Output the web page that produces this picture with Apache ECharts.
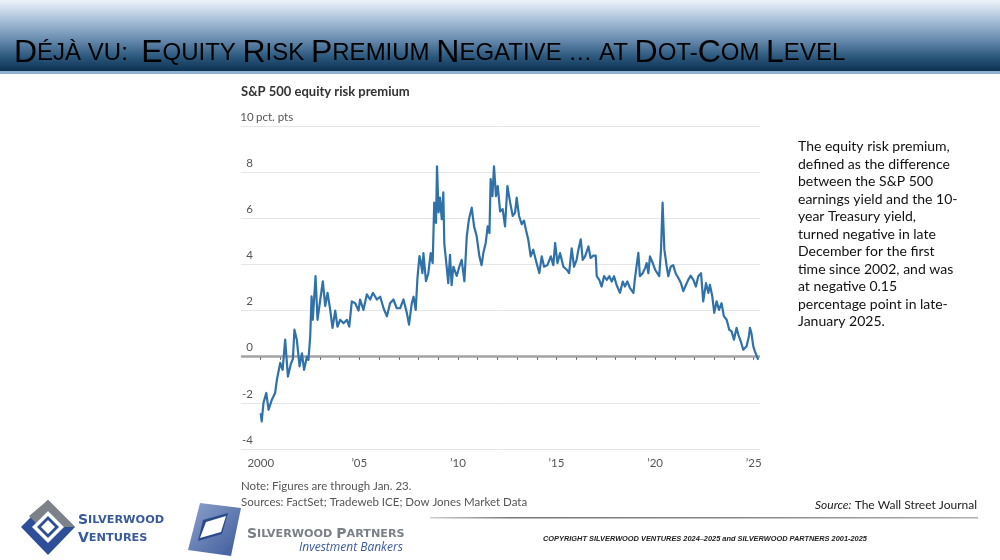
<!DOCTYPE html>
<html>
<head>
<meta charset="utf-8">
<script src="https://cdn.jsdelivr.net/npm/echarts@6/dist/echarts.min.js"></script>
<style>
html,body{margin:0;padding:0;background:#fff;}
#c{width:1000px;height:560px;}
</style>
</head>
<body>
<div id="c"></div>
<script>
// ---- data ----
const years = [
2000.00,2000.05,2000.14,2000.28,2000.40,2000.57,2000.73,2000.82,2000.99,2001.11,
2001.24,2001.38,2001.53,2001.63,2001.71,2001.83,2001.97,2002.09,2002.20,2002.34,
2002.42,2002.51,2002.58,2002.64,2002.78,2002.88,2003.02,2003.15,2003.27,2003.39,
2003.52,2003.64,2003.78,2003.89,2004.03,2004.20,2004.37,2004.49,2004.62,2004.79,
2004.96,2005.04,2005.21,2005.38,2005.55,2005.69,2005.89,2006.06,2006.23,2006.40,
2006.56,2006.73,2006.90,2007.07,2007.24,2007.41,2007.52,2007.66,2007.75,2007.86,
2007.95,2008.05,2008.10,2008.20,2008.25,2008.38,2008.50,2008.62,2008.72,2008.80,
2008.89,2008.94,2009.02,2009.09,2009.18,2009.26,2009.31,2009.43,2009.51,2009.60,
2009.68,2009.77,2009.94,2010.07,2010.19,2010.33,2010.45,2010.56,2010.70,2010.82,
2010.95,2011.09,2011.20,2011.29,2011.41,2011.51,2011.60,2011.66,2011.75,2011.83,
2011.93,2012.02,2012.14,2012.27,2012.39,2012.51,2012.65,2012.78,2012.90,2012.98,
2013.10,2013.24,2013.35,2013.45,2013.57,2013.69,2013.82,2013.99,2014.13,2014.25,
2014.37,2014.54,2014.71,2014.84,2014.93,2015.05,2015.18,2015.35,2015.52,2015.64,
2015.77,2015.89,2016.02,2016.11,2016.23,2016.33,2016.45,2016.62,2016.73,2016.87,
2016.99,2017.04,2017.17,2017.29,2017.41,2017.55,2017.68,2017.80,2017.92,2018.05,
2018.22,2018.36,2018.47,2018.59,2018.73,2018.90,2018.98,2019.07,2019.15,2019.23,
2019.37,2019.49,2019.57,2019.66,2019.74,2019.88,2020.00,2020.11,2020.21,2020.30,
2020.38,2020.47,2020.59,2020.67,2020.79,2020.92,2021.04,2021.18,2021.31,2021.43,
2021.57,2021.68,2021.80,2021.94,2022.07,2022.19,2022.33,2022.44,2022.58,2022.70,
2022.78,2022.90,2023.00,2023.12,2023.24,2023.37,2023.49,2023.63,2023.76,2023.88,
2024.00,2024.13,2024.22,2024.34,2024.47,2024.64,2024.76,2024.81,2024.89,2024.98,
2025.06,2025.15,2025.23
];
const erp = [
-2.45,-2.80,-2.00,-1.57,-2.30,-1.85,-1.57,-1.00,-0.27,-0.57,
 0.74,-0.86,-0.30,-0.10, 1.17, 0.74,-0.42, 0.15,-0.57, 0.00,
-0.14, 0.88, 2.62, 1.60, 3.49, 1.60, 2.48, 3.27, 2.20, 2.77,
 2.05, 1.25, 2.00, 1.30, 1.60, 1.45, 1.60, 1.30, 2.40, 2.32,
 2.00, 2.48, 2.03, 2.70, 2.48, 2.77, 2.48, 2.60, 2.10, 1.75,
 2.32, 2.48, 2.10, 2.10, 2.48, 1.90, 1.39, 2.32, 2.60, 2.03,
 3.42, 4.36, 4.20, 3.62, 4.49, 3.27, 3.62, 4.49, 4.06, 6.68,
 5.80, 8.25, 6.25, 6.90, 5.96, 7.12, 4.90, 3.90, 3.19, 4.42,
 3.10, 3.90, 3.50, 3.90, 4.20, 3.27, 5.23, 5.96, 6.46, 5.65,
 5.23, 4.35, 3.97, 4.49, 4.93, 5.65, 5.36, 7.70, 6.96, 8.25,
 6.96, 7.40, 6.30, 6.40, 5.65, 7.40, 6.68, 6.10, 6.25, 6.90,
 6.10, 5.74, 5.90, 5.50, 5.07, 4.35, 4.64, 4.06, 3.62, 4.35,
 3.90, 3.97, 4.35, 3.97, 4.93, 4.06, 4.49, 3.90, 3.77, 3.62,
 4.70, 3.90, 4.20, 4.64, 5.09, 4.20, 4.35, 4.78, 4.28, 4.38,
 4.38, 3.49, 3.33, 3.04, 3.49, 3.33, 3.49, 3.26, 3.49, 3.10,
 2.77, 3.26, 3.04, 3.26, 2.97, 2.77, 3.41, 3.49, 4.50, 3.49,
 3.62, 3.84, 4.06, 3.62, 4.35, 4.06, 3.77, 3.62, 3.49, 4.64,
 6.68, 4.64, 3.90, 3.49, 3.90, 3.97, 3.62, 3.41, 3.19, 2.84,
 3.12, 3.33, 3.51, 3.33, 3.04, 3.49, 3.62, 2.40, 3.19, 2.77,
 3.12, 2.62, 1.90, 2.40, 2.03, 2.32, 1.75, 1.60, 1.17, 1.10,
 0.74, 1.25, 0.96, 0.68, 0.30, 0.45, 0.90, 1.25, 1.00, 0.45,
 0.23, 0.16,-0.13
];
const tickYears = [2000,2001,2002,2003,2004,2005,2006,2007,2008,2009,2010,2011,2012,2013,2014,2015,2016,2017,2018,2019,2020,2021,2022,2023,2024,2025];
const labelYears = [2000,2005,2010,2015,2020,2025];
const labelTexts = ['2000','\u201905','\u201910','\u201915','\u201920','\u201925'];

const chart = echarts.init(document.getElementById('c'), null, {renderer:'canvas'});
const series = years.map((y,i)=>[y, erp[i]]);

const tFont = 'Liberation Sans Narrow, Liberation Sans, Arial';
const tShadow = {textShadowColor:'rgba(0,0,0,0.6)', textShadowOffsetX:1, textShadowOffsetY:1, textShadowBlur:0};
const titleRich = {
  b:Object.assign({fontSize:32, color:'#fff', fontFamily:tFont}, tShadow),
  s:Object.assign({fontSize:24, color:'#fff', fontFamily:tFont}, tShadow)
};
const titleText = '{b|D}{s|ÉJÀ VU:}{s|  }{b|E}{s|QUITY }{b|R}{s|ISK }{b|P}{s|REMIUM }{b|N}{s|EGATIVE … AT }{b|D}{s|OT-}{b|C}{s|OM }{b|L}{s|EVEL}';

const noteFont = 'Lato, Roboto, sans-serif';
const bodyFont = 'Lato, Open Sans, sans-serif';
const logoFont = 'DejaVu Sans, Liberation Sans, Arial';

const option = {
  animation:false,
  backgroundColor:'#fff',
  grid:{left:241, top:126, width:519, height:323, containLabel:false},
  xAxis:{
    type:'value', min:1999, max:2025.32, interval:1,
    axisLine:{show:true, lineStyle:{color:'#e2e2e2', width:1}},
    axisTick:{show:true, length:3, lineStyle:{color:'#555', width:1}, customValues:tickYears},
    axisLabel:{
      customValues:labelYears, margin:8, fontSize:11.5, color:'#555', fontFamily:noteFont,
      formatter:(v)=>{const k=labelYears.indexOf(Math.round(v)); return (k>=0 && Math.abs(v-Math.round(v))<1e-6)?labelTexts[k]:'';}
    },
    splitLine:{show:false}
  },
  yAxis:{
    type:'value', min:-4, max:10, interval:2,
    axisLine:{show:false}, axisTick:{show:false},
    splitLine:{show:true, lineStyle:{color:'#e6e6e6', width:1}},
    axisLabel:{
      inside:true, margin:0, align:'left', verticalAlign:'bottom', padding:[0,0,3,0],
      color:'#555', fontSize:11.5, fontFamily:noteFont,
      formatter:(v)=> v===10 ? '{v|10}{u| pct. pts}' : '{v|'+v+'}',
      rich:{
        v:{width:12, align:'right', color:'#555', fontSize:11.5, fontFamily:noteFont},
        u:{color:'#555', fontSize:11.5, fontFamily:noteFont}
      }
    }
  },
  series:[{
    type:'line', data:series, showSymbol:false, symbol:'none',
    lineStyle:{color:'#2f71a8', width:2.2, join:'round'}, z:3,
    markLine:{
      silent:true, symbol:'none', label:{show:false},
      lineStyle:{color:'#a3a3a3', width:2.5, type:'solid'},
      data:[{yAxis:0}], z:2
    }
  }],
  graphic:[
    // title bar
    {type:'rect', shape:{x:0,y:0,width:1000,height:71}, silent:true,
     style:{fill:new echarts.graphic.LinearGradient(0,0,0,1,[
       {offset:0,color:'#eef3f9'},{offset:0.28,color:'#a9c1da'},{offset:0.55,color:'#6a8db0'},
       {offset:0.8,color:'#2b587d'},{offset:1,color:'#0c3252'}])}},
    {type:'rect', shape:{x:0,y:71,width:1000,height:3}, silent:true, style:{fill:'#8fb0cf'}},
    {type:'text', left:14, top:37, silent:true, style:{text:titleText, rich:titleRich}},
    // chart title and notes
    {type:'text', left:241, top:85, silent:true, style:{text:'S&P 500 equity risk premium', fontSize:13, fontWeight:'bold', fill:'#333', fontFamily:noteFont}},
    {type:'text', left:241, top:478, silent:true, style:{text:'Note: Figures are through Jan. 23.\nSources: FactSet; Tradeweb ICE; Dow Jones Market Data', fontSize:11.5, lineHeight:16, fill:'#555', fontFamily:noteFont}},
    // right annotation
    {type:'text', left:798, top:138, silent:true, style:{
      text:'The equity risk premium,\ndefined as the difference\nbetween the S&P 500\nearnings yield and the 10-\nyear Treasury yield,\nturned negative in late\nDecember for the first\ntime since 2002, and was\nat negative 0.15\npercentage point in late-\nJanuary 2025.',
      fontSize:14, lineHeight:17.5, fill:'#111', fontFamily:bodyFont}},
    // source + rule + copyright
    {type:'text', left:815, top:499, silent:true, style:{text:'{i|Source:} The Wall Street Journal', fontSize:12, fill:'#222', fontFamily:bodyFont, rich:{i:{fontStyle:'italic', fontSize:12, fill:'#222', fontFamily:bodyFont}}}},
    {type:'rect', shape:{x:430,y:517,width:548,height:1.5}, silent:true,
     style:{fill:new echarts.graphic.LinearGradient(0,0,1,0,[{offset:0,color:'#cfcfcf'},{offset:0.15,color:'#777'},{offset:0.6,color:'#8a8a8a'},{offset:1,color:'#b0b0b0'}])}},
    {type:'text', left:543, top:535, silent:true, style:{text:'COPYRIGHT SILVERWOOD VENTURES 2024\u20132025 and SILVERWOOD PARTNERS 2001-2025', fontSize:7.4, fontStyle:'italic', fontWeight:'bold', fill:'#222', fontFamily:'Liberation Sans, Arial'}},
    // Silverwood Ventures logo
    {type:'polygon', silent:true, shape:{points:[[48,500],[75,527],[48,555],[21,527]]}, style:{fill:'#2e4f98'}},
    {type:'polygon', silent:true, shape:{points:[[48,500],[75,527],[64,527],[48,511],[36,523],[29,516]]}, style:{fill:'#7d8288'}},
    {type:'polygon', silent:true, shape:{points:[[48,511],[64,527],[48,543],[32,527]]}, style:{fill:'#fff'}},
    {type:'polygon', silent:true, shape:{points:[[48,516],[59,527],[48,538],[37,527]]}, style:{fill:'#2e4f98'}},
    {type:'polygon', silent:true, shape:{points:[[48,520],[55,527],[48,534],[41,527]]}, style:{fill:'#fff'}},
    {type:'text', left:78, top:511, silent:true, style:{text:'{b|S}{s|ILVERWOOD}\n{b|V}{s|ENTURES}', lineHeight:18,
      rich:{b:{fontSize:14, fontWeight:'bold', fill:'#3a5a9e', fontFamily:logoFont, lineHeight:18},
            s:{fontSize:11.3, fontWeight:'bold', fill:'#3a5a9e', fontFamily:logoFont, lineHeight:18}}}},
    // Silverwood Partners logo
    {type:'polygon', silent:true, shape:{points:[[200,503],[241,508],[231,556],[188,550]]},
     style:{fill:new echarts.graphic.LinearGradient(0,0,1,1,[{offset:0,color:'#8da2cc'},{offset:1,color:'#3d5a9a'}])}},
    {type:'polygon', silent:true, shape:{points:[[203,520],[228,513],[222,534],[198,541]]}, style:{fill:'#2a4a8c'}},
    {type:'polygon', silent:true, shape:{points:[[206,522],[226,516],[221,532],[200,538]]}, style:{fill:'#fff'}},
    {type:'text', left:247, top:527, silent:true, style:{text:'{b|S}{s|ILVERWOOD }{b|P}{s|ARTNERS}',
      rich:{b:{fontSize:14, fontWeight:'bold', fill:'#7b8088', fontFamily:logoFont},
            s:{fontSize:11.2, fontWeight:'bold', fill:'#7b8088', fontFamily:logoFont}}}},
    {type:'text', left:299, top:542, silent:true, style:{text:'Investment Bankers', fontSize:12, fontStyle:'italic', fill:'#3a5a9e', fontFamily:'Open Sans, Lato, sans-serif'}}
  ]
};
chart.setOption(option);
</script>
</body>
</html>
